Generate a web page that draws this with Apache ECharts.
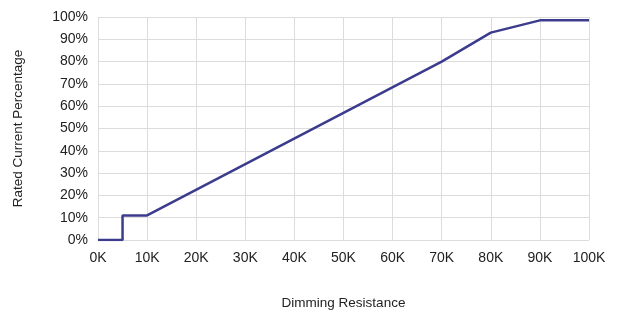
<!DOCTYPE html>
<html><head><meta charset="utf-8">
<script src="https://cdn.jsdelivr.net/npm/echarts@6/dist/echarts.min.js"></script>
<style>html,body{margin:0;padding:0;background:#fff}#c{width:618px;height:315px}</style>
</head><body><div id="c"></div>
<script>
const resistanceK = [0, 5, 5, 10, 70, 80, 90, 100];
const currentPct = [0, 0, 11, 11, 80, 93, 98.5, 98.5];
const xTicks = ['0K','10K','20K','30K','40K','50K','60K','70K','80K','90K','100K'];
const yTicks = ['0%','10%','20%','30%','40%','50%','60%','70%','80%','90%','100%'];
const font = 'Liberation Sans, Arial, sans-serif';
const chart = echarts.init(document.getElementById('c'));
chart.setOption({
  animation: false,
  grid: {left: 98, right: 29, top: 17, bottom: 74},
  xAxis: {
    type: 'value', min: 0, max: 100, interval: 10,
    name: 'Dimming Resistance', nameLocation: 'middle', nameGap: 56,
    nameTextStyle: {fontFamily: font, fontSize: 13.5, color: '#222'},
    axisLine: {show: false}, axisTick: {show: false},
    axisLabel: {fontFamily: font, fontSize: 14, color: '#222', margin: 11,
      formatter: v => xTicks[Math.round(v / 10)]},
    splitLine: {show: true, lineStyle: {color: '#dcdcdc', width: 1}}
  },
  yAxis: {
    type: 'value', min: 0, max: 100, interval: 10,
    name: 'Rated Current Percentage', nameLocation: 'middle', nameGap: 73,
    nameTextStyle: {fontFamily: font, fontSize: 13.5, color: '#222'},
    axisLine: {show: false}, axisTick: {show: false},
    axisLabel: {fontFamily: font, fontSize: 14, color: '#222', margin: 10,
      formatter: v => yTicks[Math.round(v / 10)]},
    splitLine: {show: true, lineStyle: {color: '#dcdcdc', width: 1}}
  },
  series: [{
    type: 'line', symbol: 'none',
    data: resistanceK.map((x, i) => [x, currentPct[i]]),
    lineStyle: {color: '#3c3c8e', width: 2.5}
  }]
});
</script></body></html>
